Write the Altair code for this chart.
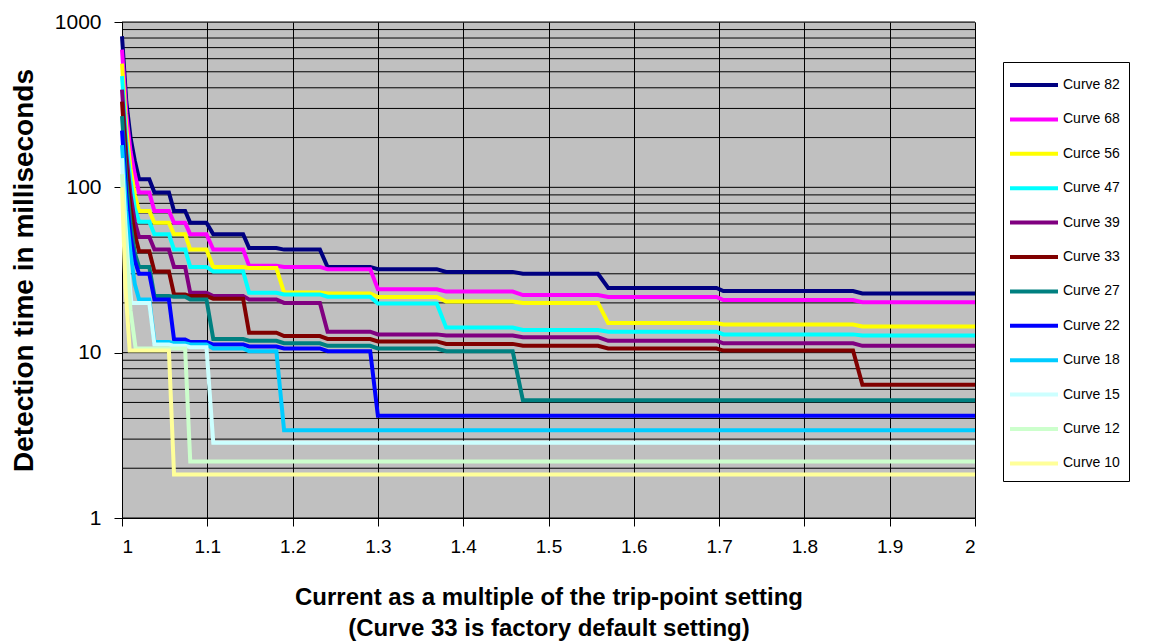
import altair as alt
import pandas as pd

# ---------------- data ----------------
series = ["Curve 82", "Curve 68", "Curce 56", "Curve 47", "Curve 39", "Curve 33",
          "Curve 27", "Curve 22", "Curve 18", "Curve 15", "Curve 12", "Curve 10"]
colors = ["#000080", "#FF00FF", "#FFFF00", "#00FFFF", "#800080", "#800000",
          "#008080", "#0000FF", "#00CCFF", "#CCFFFF", "#CCFFCC", "#FFFF99"]

# initial steep part near x = 1 (x values incl. end, y values excl. end -> end = first level)
descent_x = {
    "Curve 82": [1.0, 1.005, 1.01, 1.015, 1.02],
    "Curve 68": [1.0, 1.005, 1.01, 1.015, 1.02],
    "Curce 56": [1.0, 1.005, 1.01, 1.015, 1.02],
    "Curve 47": [1.0, 1.005, 1.01, 1.015, 1.02],
    "Curve 39": [1.0, 1.005, 1.01, 1.015, 1.02],
    "Curve 33": [1.0, 1.005, 1.01, 1.015, 1.02],
    "Curve 27": [1.0, 1.005, 1.01, 1.015, 1.02],
    "Curve 22": [1.0, 1.005, 1.01, 1.015, 1.02],
    "Curve 18": [1.0, 1.005, 1.01, 1.015, 1.02],
    "Curve 15": [1.0, 1.004, 1.008, 1.011],
    "Curve 12": [1.0, 1.005, 1.01, 1.016],
    "Curve 10": [1.0, 1.004, 1.009],
}
descent_y = {
    "Curve 82": [820, 330, 200, 145],
    "Curve 68": [680, 280, 165, 120],
    "Curce 56": [560, 230, 130, 90],
    "Curve 47": [470, 190, 110, 75],
    "Curve 39": [390, 160, 90, 62],
    "Curve 33": [330, 135, 75, 52],
    "Curve 27": [270, 110, 60, 40],
    "Curve 22": [220, 90, 50, 36],
    "Curve 18": [180, 72, 40, 26],
    "Curve 15": [150, 60, 30],
    "Curve 12": [120, 40, 18],
    "Curve 10": [100, 25],
}

# x where each plateau ends / where the next one starts
step_end = [1.032, 1.055, 1.074, 1.099, 1.142, 1.181, 1.232, 1.291, 1.369, 1.458, 1.558, 1.697, 1.857]
step_start = [1.038, 1.061, 1.080, 1.107, 1.149, 1.190, 1.241, 1.300, 1.380, 1.470, 1.570, 1.705, 1.868]
x_last = 2.0

# detection-time plateaus (ms), one per interval
levels = {
    "Curve 82": [112, 93, 72, 61, 52, 43, 42, 33, 32, 30.8, 30, 24.6, 23.6, 22.8],
    "Curve 68": [93, 72, 61, 52, 42, 33.5, 33, 32, 24.2, 23.4, 22.3, 21.7, 20.8, 20.2],
    "Curce 56": [72, 61, 52, 42, 33, 32.5, 23.1, 22.8, 21.7, 20.4, 20.0, 15.1, 14.8, 14.4],
    "Curve 47": [62, 52, 42, 33, 31, 23, 22.5, 21.8, 19.8, 14.2, 13.7, 13.4, 12.9, 12.7],
    "Curve 39": [50, 42, 33, 23, 22, 21, 20, 13.4, 12.9, 12.7, 12.4, 11.8, 11.4, 11.0],
    "Curve 33": [41, 31, 22.5, 22, 21.2, 13.2, 12.6, 12.1, 11.7, 11.3, 11.0, 10.6, 10.3, 6.4],
    "Curve 27": [33, 22, 21.8, 21, 12.1, 11.8, 11.4, 11.0, 10.6, 10.2, 5.15, 5.15, 5.15, 5.15],
    "Curve 22": [30, 21, 12, 11.6, 11.2, 10.9, 10.6, 10.2, 4.15, 4.15, 4.15, 4.15, 4.15, 4.15],
    "Curve 18": [21, 11.6, 11.4, 11.2, 10.6, 10.2, 3.4, 3.4, 3.4, 3.4, 3.4, 3.4, 3.4, 3.4],
    "Curve 15": [20, 11.2, 11.0, 10.8, 2.85, 2.85, 2.85, 2.85, 2.85, 2.85, 2.85, 2.85, 2.85, 2.85],
    "Curve 12": [10.6, 10.6, 10.6, 2.2, 2.2, 2.2, 2.2, 2.2, 2.2, 2.2, 2.2, 2.2, 2.2, 2.2],
    "Curve 10": [10.3, 10.3, 1.83, 1.83, 1.83, 1.83, 1.83, 1.83, 1.83, 1.83, 1.83, 1.83, 1.83, 1.83],
}

grid_values = [1, 2, 3, 4, 5, 6, 7, 8, 9, 10, 20, 30, 40, 50, 60, 70, 80, 90,
               100, 200, 300, 400, 500, 600, 700, 800, 900, 1000]
x_ticks = [1.0, 1.1, 1.2, 1.3, 1.4, 1.5, 1.6, 1.7, 1.8, 1.9, 2.0]
y_ticks = [1, 10, 100, 1000]

# ---------------- build table ----------------
rows = []
for s in series:
    lv = levels[s]
    dx, dy = descent_x[s], descent_y[s]
    for xv, yv in zip(dx[:-1], dy):
        rows.append({"series": s, "x": xv, "y": yv})
    rows.append({"series": s, "x": dx[-1], "y": lv[0]})
    rows.append({"series": s, "x": step_end[0], "y": lv[0]})
    for k in range(1, len(lv)):
        end = step_end[k] if k < len(step_end) else x_last
        rows.append({"series": s, "x": step_start[k - 1], "y": lv[k]})
        rows.append({"series": s, "x": end, "y": lv[k]})
df = pd.DataFrame(rows)
gdf = pd.DataFrame({"y": grid_values})

FONT = "Liberation Sans"
yscale = alt.Scale(type="log", domain=[1, 1000], nice=False)
xscale = alt.Scale(domain=[1, 2], nice=False, zero=False)

yaxis = alt.Axis(values=y_ticks, format="d", grid=False, tickColor="black",
                 tickSize=8, domainColor="black", domainWidth=1,
                 labelFontSize=21, labelPadding=13, labelColor="black",
                 title="Detection time in milliseconds", titleFontSize=28,
                 titleFontWeight="bold", titleColor="black", titlePadding=16)

grid = alt.Chart(gdf).mark_rule(color="black", strokeWidth=1).encode(
    y=alt.Y("y:Q", scale=yscale, axis=yaxis)
)

lines = alt.Chart(df).mark_line(strokeWidth=4, strokeJoin="miter").encode(
    x=alt.X("x:Q", scale=xscale,
            axis=alt.Axis(values=x_ticks, format="~g", grid=True, gridColor="black",
                          gridOpacity=1, gridWidth=1, tickColor="black", tickSize=8,
                          domainColor="black", domainWidth=1,
                          labelFontSize=19, labelPadding=11, labelColor="black",
                          title=["Current as a multiple of the trip-point setting",
                                 "(Curve 33 is factory default setting)"],
                          titleFontSize=24, titleFontWeight="bold", titleColor="black",
                          titlePadding=29, titleLineHeight=31)),
    y=alt.Y("y:Q", scale=yscale, axis=yaxis),
    color=alt.Color("series:N", sort=series,
                    scale=alt.Scale(domain=series, range=colors),
                    legend=alt.Legend(orient="none", legendX=881, legendY=40, title=None,
                                      fillColor="white", strokeColor="black", padding=9,
                                      symbolType="M-3,0L1,0", symbolSize=576,
                                      symbolStrokeWidth=4, symbolOffset=20,
                                      labelFontSize=14, labelFont=FONT, labelColor="black",
                                      labelOffset=3, rowPadding=12.4, direction="vertical")),
)

chart = alt.layer(grid, lines).properties(
    width=853, height=496,
    padding={"left": 114, "top": 14, "right": 167, "bottom": 126},
    autosize="none",
    background="white",
).configure_view(
    fill="#C0C0C0", stroke="#808080", strokeWidth=1
).configure_axis(
    labelFont=FONT, titleFont=FONT
)

chart.save("out.html", embed_options={"renderer": "svg", "actions": False})
